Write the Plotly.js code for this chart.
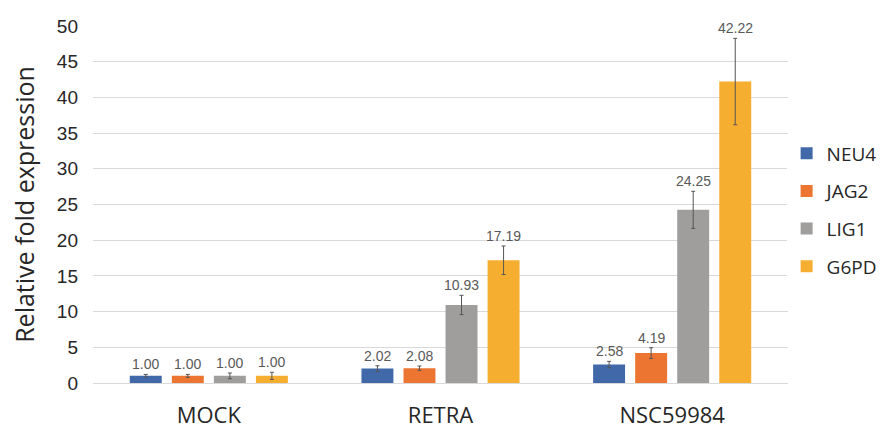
<!DOCTYPE html>
<html><head><meta charset="utf-8">
<script src="https://cdn.plot.ly/plotly-3.0.1.min.js"></script>
<style>html,body{margin:0;padding:0;background:#fff}#chart{width:880px;height:428px}</style>
</head><body><div id="chart"></div>
<script>
const categories = ["MOCK", "RETRA", "NSC59984"];
const seriesNames = ["NEU4", "JAG2", "LIG1", "G6PD"];
const NEU4 = [1.00, 2.02, 2.58];
const JAG2 = [1.00, 2.08, 4.19];
const LIG1 = [1.00, 10.93, 24.25];
const G6PD = [1.00, 17.19, 42.22];
const NEU4_err = [0.2, 0.4, 0.45];
const JAG2_err = [0.2, 0.3, 0.75];
const LIG1_err = [0.4, 1.35, 2.6];
const G6PD_err = [0.5, 2.0, 6.05];
const yTicks = [0, 5, 10, 15, 20, 25, 30, 35, 40, 45, 50];

const colors = ["#4169aa", "#ec7532", "#a09e9c", "#f6ae30"];
const values = [NEU4, JAG2, LIG1, G6PD];
const errs = [NEU4_err, JAG2_err, LIG1_err, G6PD_err];
const bargap = 0.274;
const slot = (1 - bargap) / seriesNames.length;

const traces = seriesNames.map((name, i) => ({
  type: "bar", name: name, x: categories, y: values[i],
  marker: {color: colors[i]},
  legendgroup: name,
  error_y: {type: "data", array: errs[i], visible: true, color: "#555555", thickness: 1, width: 2},
  hoverinfo: "none"
}));

const annotations = [];
seriesNames.forEach((name, i) => {
  values[i].forEach((v, c) => {
    annotations.push({
      x: c + (i - (seriesNames.length - 1) / 2) * slot,
      y: v + errs[i][c], xref: "x", yref: "y",
      text: v.toFixed(2), showarrow: false, yanchor: "bottom", yshift: 0,
      font: {family: "Liberation Sans, Arial, sans-serif", size: 14, color: "#595959"}
    });
  });
});

const layout = {
  width: 880, height: 428,
  margin: {l: 93, r: 92, t: 26, b: 45, autoexpand: false},
  paper_bgcolor: "#ffffff", plot_bgcolor: "#ffffff",
  barmode: "group", bargap: bargap, bargroupgap: 0.24,
  showlegend: true,
  legend: {x: 0.998, xanchor: "left", y: 0.485, yanchor: "middle",
    font: {family: "Open Sans, sans-serif", size: 19, color: "#262626"},
    tracegroupgap: 10, itemwidth: 30},
  xaxis: {type: "category", tickfont: {family: "Open Sans, sans-serif", size: 22, color: "#262626"},
    showgrid: false, showline: false, zeroline: false, ticks: "", ticklabelstandoff: 17},
  yaxis: {range: [0, 50], tickvals: yTicks, ticktext: yTicks.map(String),
    tickfont: {family: "Liberation Sans, Arial, sans-serif", size: 19, color: "#262626"},
    showgrid: true, gridcolor: "#d9d9d9", gridwidth: 1, zeroline: true, zerolinecolor: "#d9d9d9",
    showline: false, ticks: "", ticklabelstandoff: 14,
    title: {text: "Relative fold expression", standoff: 15,
      font: {family: "Open Sans, sans-serif", size: 25, color: "#262626"}}},
  annotations: annotations
};

Plotly.newPlot("chart", traces, layout, {displayModeBar: false, staticPlot: true});
</script></body></html>
